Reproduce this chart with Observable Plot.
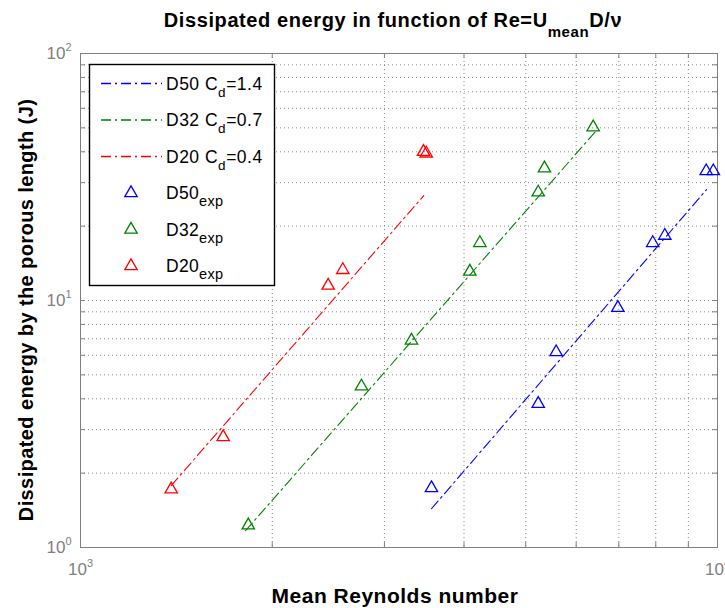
<!DOCTYPE html>
<html>
<head>
<meta charset="utf-8">
<script src="https://cdn.jsdelivr.net/npm/d3@7"></script>
<script src="https://cdn.jsdelivr.net/npm/@observablehq/plot@0.6"></script>
<style>
  body { margin: 0; background: #fff; }
  #chart svg { display: block; }
</style>
</head>
<body>
<div id="chart"></div>
<script>
// ---- data ----
const seriesNames = ["D50", "D32", "D20"];
const seriesColors = ["#0000ff", "#008000", "#ff0000"];
const dragCoefs = ["1.4", "0.7", "0.4"];

// experimental points (Reynolds number, dissipated energy J)
const re50 = [3556, 5231, 5581, 6975, 7913, 8266, 9600, 9850];
const e50  = [1.74, 3.82, 6.18, 9.34, 17.1, 18.3, 33.4, 33.4];
const re32 = [1834, 2761, 3308, 4085, 4236, 5231, 5350, 6380];
const e32  = [1.23, 4.49, 6.89, 13.1, 17.1, 27.4, 34.3, 50.3];
const re20 = [1388, 1675, 2448, 2581, 3455, 3490];
const e20  = [1.72, 2.80, 11.5, 13.3, 40.0, 39.4];

// model curves (end points of each straight log-log line)
const fitRe50 = [3556, 9610];  const fitE50 = [1.435, 28.1];
const fitRe32 = [1816, 6457];  const fitE32 = [1.17, 48.8];
const fitRe20 = [1388, 3459];  const fitE20 = [1.78, 26.6];

// axis ticks
const xGridTicks = [2000, 3000, 4000, 5000, 6000, 7000, 8000, 9000];
const yGridTicks = [2, 3, 4, 5, 6, 7, 8, 9, 10, 20, 30, 40, 50, 60, 70, 80, 90];
const xDecades = [1000, 10000];
const yDecades = [1, 10, 100];

const titleMain = "Dissipated energy in function of Re=U";
const titleSub = "mean";
const titleEnd = "D/ν";
const xLabel = "Mean Reynolds number";
const yLabel = "Dissipated energy by the porous length (J)";

// ---- layout ----
const W = 725, H = 608;
const mT = 53, mL = 80, mR = 8, mB = 61;
const pw = W - mL - mR, ph = H - mT - mB;
const FONT = "'Liberation Sans', Arial, Helvetica, sans-serif";
const DASH = "10,4,2,4";

const rows = (re, e, s) => re.map((r, i) => ({re: r, e: e[i], s}));
const points = [...rows(re50, e50, "D50"), ...rows(re32, e32, "D32"), ...rows(re20, e20, "D20")];
const fits = [...rows(fitRe50, fitE50, "D50"), ...rows(fitRe32, fitE32, "D32"), ...rows(fitRe20, fitE20, "D20")];

const svg = Plot.plot({
  width: W, height: H,
  marginTop: mT, marginLeft: mL, marginRight: mR, marginBottom: mB,
  style: {fontFamily: FONT, background: "#fff", overflow: "visible"},
  x: {type: "log", domain: [1000, 10000]},
  y: {type: "log", domain: [1, 100]},
  color: {domain: seriesNames, range: seriesColors},
  marks: [
    Plot.ruleX(xGridTicks, {stroke: "#8c8c8c", strokeDasharray: "1,3"}),
    Plot.ruleY(yGridTicks, {stroke: "#8c8c8c", strokeDasharray: "1,3"}),
    Plot.ruleX(xGridTicks, {stroke: "#808080", insetTop: ph - 5}),
    Plot.ruleX(xGridTicks, {stroke: "#808080", insetBottom: ph - 5}),
    Plot.ruleY(yGridTicks, {stroke: "#808080", insetRight: pw - 5}),
    Plot.ruleY(yGridTicks, {stroke: "#808080", insetLeft: pw - 5}),
    Plot.frame({stroke: "#808080"}),
    Plot.line(fits, {x: "re", y: "e", z: "s", stroke: "s", strokeWidth: 1.1, strokeDasharray: DASH}),
    Plot.dot(points, {x: "re", y: "e", stroke: "s", symbol: "triangle", r: 4.6, strokeWidth: 1.3, fill: "none"}),
    Plot.axisX({ticks: xDecades, tickSize: 0, tickPadding: 15, label: null, color: "#808080",
      fontSize: 17, tickFormat: d => String(Math.round(Math.log10(d)))}),
    Plot.axisY({ticks: yDecades, tickSize: 0, tickPadding: 9, label: null, color: "#808080",
      fontSize: 17, tickFormat: d => String(Math.round(Math.log10(d)))})
  ]
});

const root = d3.select(svg);

// superscript exponents on decade tick labels
root.selectAll('g[aria-label="x-axis tick label"] text, g[aria-label="y-axis tick label"] text').each(function() {
  const exp = this.textContent;
  const t = d3.select(this);
  t.text("10").attr("font-size", 17).attr("fill", "#808080");
  t.append("tspan").attr("font-size", 11).attr("dy", -8).text(exp);
});

// title
const title = root.append("text")
  .attr("x", 393).attr("y", 27)
  .attr("text-anchor", "middle").attr("font-weight", "bold").attr("font-size", 20)
  .attr("letter-spacing", 0.6)
  .attr("fill", "#000").style("font-family", FONT);
title.append("tspan").text(titleMain);
title.append("tspan").attr("font-size", 15).attr("dy", 10).text(titleSub);
title.append("tspan").attr("dy", -10).text(titleEnd);

// axis labels
root.append("text")
  .attr("x", 395).attr("y", 603)
  .attr("text-anchor", "middle").attr("font-weight", "bold").attr("font-size", 21)
  .attr("letter-spacing", 0.5)
  .attr("fill", "#000").style("font-family", FONT).text(xLabel);
root.append("text")
  .attr("transform", `translate(33,${310}) rotate(-90)`)
  .attr("text-anchor", "middle").attr("font-weight", "bold").attr("font-size", 20)
  .attr("letter-spacing", 0.4)
  .attr("fill", "#000").style("font-family", FONT).text(yLabel);

// legend
const lg = root.append("g").style("font-family", FONT).attr("text-anchor", "start");
lg.append("rect").attr("x", 89.5).attr("y", 64.5).attr("width", 185).attr("height", 221)
  .attr("fill", "#fff").attr("stroke", "#000").attr("stroke-width", 1.4);
const rowY = i => 83.5 + 36.5 * i;
seriesNames.forEach((name, i) => {
  const cy = rowY(i);
  lg.append("line").attr("x1", 101).attr("x2", 162).attr("y1", cy).attr("y2", cy)
    .attr("stroke", seriesColors[i]).attr("stroke-width", 1.3).attr("stroke-dasharray", DASH);
  const t = lg.append("text").attr("x", 166).attr("y", cy + 6).attr("font-size", 17.5)
    .attr("letter-spacing", 0.5).attr("text-anchor", "start").attr("fill", "#000");
  t.append("tspan").text(name + " C");
  t.append("tspan").attr("font-size", 13.5).attr("dy", 7).text("d");
  t.append("tspan").attr("dy", -7).text("=" + dragCoefs[i]);
});
const tri = d3.symbol(d3.symbolTriangle, 4.6 * 4.6 * Math.PI)();
seriesNames.forEach((name, i) => {
  const cy = rowY(i + 3);
  lg.append("path").attr("d", tri).attr("transform", `translate(131,${cy})`)
    .attr("fill", "none").attr("stroke", seriesColors[i]).attr("stroke-width", 1.3);
  const t = lg.append("text").attr("x", 166).attr("y", cy + 6).attr("font-size", 17.5)
    .attr("letter-spacing", 0.3).attr("text-anchor", "start").attr("fill", "#000");
  t.append("tspan").text(name);
  t.append("tspan").attr("font-size", 14.5).attr("dy", 7).text("exp");
});

document.getElementById("chart").appendChild(svg);
</script>
</body>
</html>
